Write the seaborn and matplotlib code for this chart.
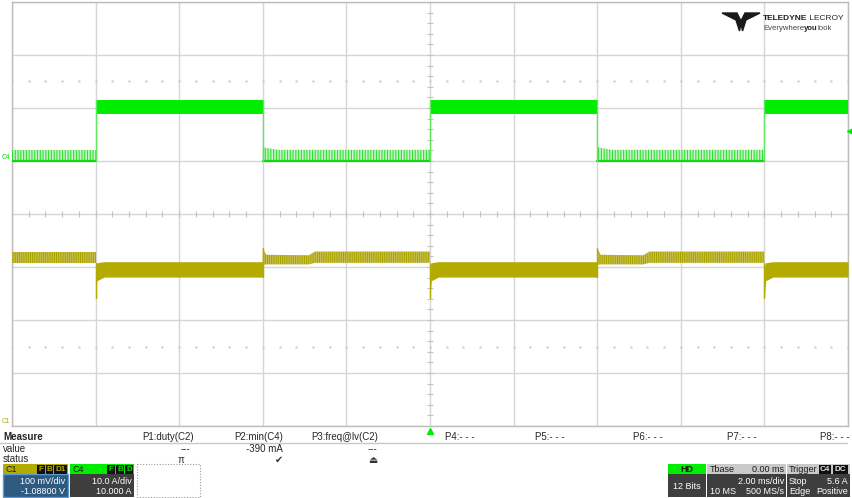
import numpy as np
import pandas as pd
import seaborn as sns
import matplotlib.pyplot as plt
from matplotlib.patches import Rectangle, Polygon

# scope settings
TDIV = 2.0          # ms/div
C1_VDIV = 0.100     # V/div
C1_OFFSET = -1.088  # V
C4_ADIV = 10.0      # A/div
C4_OFFSET = 10.0    # A
TRIG_LEVEL = 5.6    # A

# load step edges (ms)
rise_ms = [-8.0, 0.0, 8.0]
fall_ms = [-4.0, 4.0]
half_period = 4.0

# C4 current (A)
c4_low_base = 0.0
c4_low_t = [0.0, 0.35, 4.0]
c4_low_top = [2.6, 2.1, 2.1]
c4_high_lo = 8.9
c4_high_hi = 11.5

# C1 voltage envelope (V), time after edge (ms)
c1_low_t = [0.0, 0.08, 1.1, 1.25, 4.0]
c1_low_hi = [1.024, 1.011, 1.010, 1.017, 1.017]
c1_low_lo = [0.992, 0.993, 0.993, 0.996, 0.996]
c1_high_t = [0.0, 0.03, 0.2, 4.0]
c1_high_hi = [0.990, 0.996, 0.998, 0.998]
c1_high_lo = [0.930, 0.962, 0.969, 0.969]
c1_dip = 0.930
c1_overshoot = 1.024

GREEN = '#00ec00'
OLIVE = '#b3ab00'
GRID = '#d6d6d6'


def c4_div(a):
    return (np.asarray(a, dtype=float) + C4_OFFSET) / C4_ADIV


def c1_div(v):
    return (np.asarray(v, dtype=float) + C1_OFFSET) / C1_VDIV


sns.set_style('white')
plt.rcParams['font.family'] = ['Liberation Sans', 'DejaVu Sans']
plt.rcParams['hatch.linewidth'] = 0.8

W, H = 853, 498
fig = plt.figure(figsize=(W / 100, H / 100), dpi=100)
ax = fig.add_axes([12 / W, 1 - 426 / H, 836 / W, 424 / H])
ax.set_xlim(-5 * TDIV, 5 * TDIV)
ax.set_ylim(-4, 4)
ax.set_xticks(np.arange(-5, 6) * TDIV)
ax.set_yticks(np.arange(-4, 5))
ax.grid(True, color=GRID, lw=1)
ax.tick_params(length=0, labelbottom=False, labelleft=False)
for s in ax.spines.values():
    s.set_color('#bcbcbc')
    s.set_linewidth(1)

# minor marks on the centre lines and dotted rows
mx = np.arange(-10, 10.01, 0.4)
my = np.arange(-4, 4.01, 0.2)
ax.plot(mx, np.zeros_like(mx), ls='none', marker='|', ms=4, color='#c2c2c2', mew=0.8)
ax.plot(np.zeros_like(my), my, ls='none', marker='_', ms=4, color='#c2c2c2', mew=0.8)
for yy in (2.5, -2.5):
    ax.plot(mx, np.full_like(mx, yy), ls='none', marker='.', ms=1.4, color='#cccccc')

# traces
bounds = [-5 * TDIV] + sorted(rise_ms + fall_ms) + [5 * TDIV]
edges = sorted(rise_ms + fall_ms)
for a, b in zip(bounds[:-1], bounds[1:]):
    ref = a if a in edges else b - half_period
    high = (a in rise_ms) or (a not in edges and b in fall_ms)
    if high:
        x = np.clip(ref + np.array(c1_high_t), a, b)
        ax.fill_between([a, b], c4_div(c4_high_lo), c4_div(c4_high_hi),
                        color=GREEN, lw=0, zorder=4)
        ax.fill_between(x, c1_div(c1_high_lo), c1_div(c1_high_hi),
                        color=OLIVE, lw=0, zorder=4)
    else:
        xg = np.clip(ref + np.array(c4_low_t), a, b)
        ax.fill_between(xg, c4_div(c4_low_base), c4_div(c4_low_top),
                        facecolor='#c9f6c9', edgecolor='#2ee02e', hatch='||||||',
                        lw=0, zorder=4)
        sns.lineplot(x=[a, b], y=c4_div([c4_low_base, c4_low_base]), ax=ax,
                     color='#12d812', lw=1.6, zorder=5)
        x = np.clip(ref + np.array(c1_low_t), a, b)
        ax.fill_between(x, c1_div(c1_low_lo), c1_div(c1_low_hi),
                        facecolor='#d2cc6a', edgecolor='#a9a100', hatch='|||||||||',
                        lw=0, zorder=4)

rows = []
k = 0
for t in rise_ms:
    rows += [dict(t=t, y=float(c4_div(c4_low_base)), id=k, ch='C4'),
             dict(t=t, y=float(c4_div(c4_high_hi)), id=k, ch='C4')]
    rows += [dict(t=t, y=float(c1_div(c1_low_lo[-1])), id=k + 1, ch='C1'),
             dict(t=t, y=float(c1_div(c1_dip)), id=k + 1, ch='C1')]
    k += 2
for t in fall_ms:
    rows += [dict(t=t, y=float(c4_div(c4_high_hi)), id=k, ch='C4'),
             dict(t=t, y=float(c4_div(c4_low_base)), id=k, ch='C4')]
    rows += [dict(t=t, y=float(c1_div(c1_high_lo[-1])), id=k + 1, ch='C1'),
             dict(t=t, y=float(c1_div(c1_overshoot)), id=k + 1, ch='C1')]
    k += 2
edf = pd.DataFrame(rows)
sns.lineplot(data=edf[edf.ch == 'C4'], x='t', y='y', units='id', estimator=None,
             sort=False, color='#5ee85e', lw=1, ax=ax, zorder=5)
sns.lineplot(data=edf[edf.ch == 'C1'], x='t', y='y', units='id', estimator=None,
             sort=False, color=OLIVE, lw=1, ax=ax, zorder=5)
ax.set_xlabel('')
ax.set_ylabel('')

# trigger markers
ax.plot([10.05], [c4_div(TRIG_LEVEL)], marker='<', ms=4.5, color=GREEN, clip_on=False, zorder=6)
ax.plot([0], [-4.1], marker='^', ms=4.5, color=GREEN, clip_on=False, zorder=6)

# overlay in pixel coordinates
ov = fig.add_axes([0, 0, 1, 1], zorder=10)
ov.set_xlim(0, W)
ov.set_ylim(H, 0)
ov.axis('off')

# channel ground markers
ov.text(2, 157, 'C4', fontsize=4.8, color=GREEN, va='center')
ov.text(2, 421, 'C1', fontsize=4.8, color=OLIVE, va='center')

# logo
ov.add_patch(Polygon([(722, 13), (737, 13), (741, 21), (745, 13), (760, 13),
                      (746, 20), (742.5, 31), (741, 23), (739.5, 31), (736, 20)],
                     closed=True, color='#1a1a1a'))
t1 = ov.text(763, 20, 'TELEDYNE', fontsize=6.0, fontweight='bold', color='#222222',
             va='baseline')
ov.annotate(' LECROY', xy=(1, 0), xycoords=t1, fontsize=6.0, color='#222222',
            va='bottom', ha='left')
t2 = ov.text(763, 30, 'Everywhere', fontsize=5.6, color='#444444', va='baseline')
t3 = ov.annotate('you', xy=(1, 0), xycoords=t2, fontsize=5.6, fontweight='bold',
                 color='#222222', va='bottom', ha='left')
ov.annotate('look', xy=(1, 0), xycoords=t3, fontsize=5.6, color='#444444',
            va='bottom', ha='left')

# measurement table
FS = 7.0
ov.plot([0, 847], [442.5, 442.5], color='#c8c8c8', lw=1)
ov.text(3, 437, 'Measure', fontsize=FS, fontweight='bold', va='center')
ov.text(3, 449, 'value', fontsize=FS, va='center')
ov.text(3, 459, 'status', fontsize=FS, va='center')
p_labels = ['P1:duty(C2)', 'P2:min(C4)', 'P3:freq@lv(C2)', 'P4:- - -',
            'P5:- - -', 'P6:- - -', 'P7:- - -', 'P8:- - -']
p_right = [194, 283, 378, 475, 565, 663, 757, 850]
p_values = ['---', '-390 mA', '---']
p_status = ['π', '✔', '⏏']
for lab, xr in zip(p_labels, p_right):
    ov.text(xr, 437, lab, fontsize=FS, ha='right', va='center')
for val, xr in zip(p_values, [190, 283, 377]):
    ov.text(xr, 449, val, fontsize=FS, ha='right', va='center')
for st, xc in zip(p_status, [181, 279, 373]):
    ov.text(xc, 459.5, st, fontsize=FS, ha='center', va='center', color='#333333')


def box(x0, x1, head, body, y0=464, ym=474, y1=497):
    ov.add_patch(Rectangle((x0, y0), x1 - x0, ym - y0, color=head, lw=0))
    ov.add_patch(Rectangle((x0, ym), x1 - x0, y1 - ym, color=body, lw=0))


def badges(items, fg):
    for x0, x1, s in items:
        ov.add_patch(Rectangle((x0, 465), x1 - x0, 8.5, color='#111111', lw=0))
        ov.text((x0 + x1) / 2, 469.3, s, fontsize=5.8, color=fg, ha='center',
                va='center', fontweight='bold')


BF = 6.5
# C1
box(3, 68, OLIVE, '#2d5a7f')
ov.add_patch(Rectangle((3, 474), 65, 23, fill=False, ec='#5e9ad0', lw=1))
ov.text(6, 469, 'C1', fontsize=BF, va='center', color='#1a1a1a')
badges([(37, 45, 'F'), (46, 53, 'B'), (54, 67, 'D1')], OLIVE)
ov.text(65, 481.5, '100 mV/div', fontsize=BF, ha='right', va='center', color='white')
ov.text(65, 491, '-1.08800 V', fontsize=BF, ha='right', va='center', color='white')
# C4
box(70, 134, GREEN, '#3e3e3e')
ov.text(73, 469, 'C4', fontsize=BF, va='center', color='#1a1a1a')
badges([(107, 115, 'F'), (116, 124, 'B'), (125, 133, 'D')], GREEN)
ov.text(132, 481.5, '10.0 A/div', fontsize=BF, ha='right', va='center', color='white')
ov.text(132, 491, '10.000 A', fontsize=BF, ha='right', va='center', color='white')
ov.add_patch(Rectangle((137, 464), 63, 33, fill=False, ec='#9a9a9a', lw=0.8, ls=(0, (1, 1.5))))

# acquisition boxes
box(668, 706, GREEN, '#3e3e3e')
ov.text(687, 469, 'HD', fontsize=BF, fontweight='bold', ha='center', va='center', color='#1a1a1a')
ov.text(687, 486, '12 Bits', fontsize=BF, ha='center', va='center', color='white')
box(707, 786, '#c9c9c9', '#3e3e3e')
ov.text(710, 469, 'Tbase', fontsize=BF, va='center', color='#1a1a1a')
ov.text(784, 469, '0.00 ms', fontsize=BF, ha='right', va='center', color='#1a1a1a')
ov.text(784, 481.5, '2.00 ms/div', fontsize=BF, ha='right', va='center', color='white')
ov.text(710, 491.5, '10 MS', fontsize=BF, va='center', color='white')
ov.text(784, 491.5, '500 MS/s', fontsize=BF, ha='right', va='center', color='white')
box(787, 850, '#c9c9c9', '#3e3e3e')
ov.text(789, 469, 'Trigger', fontsize=BF, va='center', color='#1a1a1a')
badges([(819, 831, 'C4'), (833, 848, 'DC')], '#e8e8e8')
ov.text(789, 481.5, 'Stop', fontsize=BF, va='center', color='white')
ov.text(848, 481.5, '5.6 A', fontsize=BF, ha='right', va='center', color='white')
ov.text(789, 491.5, 'Edge', fontsize=BF, va='center', color='white')
ov.text(848, 491.5, 'Positive', fontsize=BF, ha='right', va='center', color='white')

fig.savefig('out.png', dpi=100)
